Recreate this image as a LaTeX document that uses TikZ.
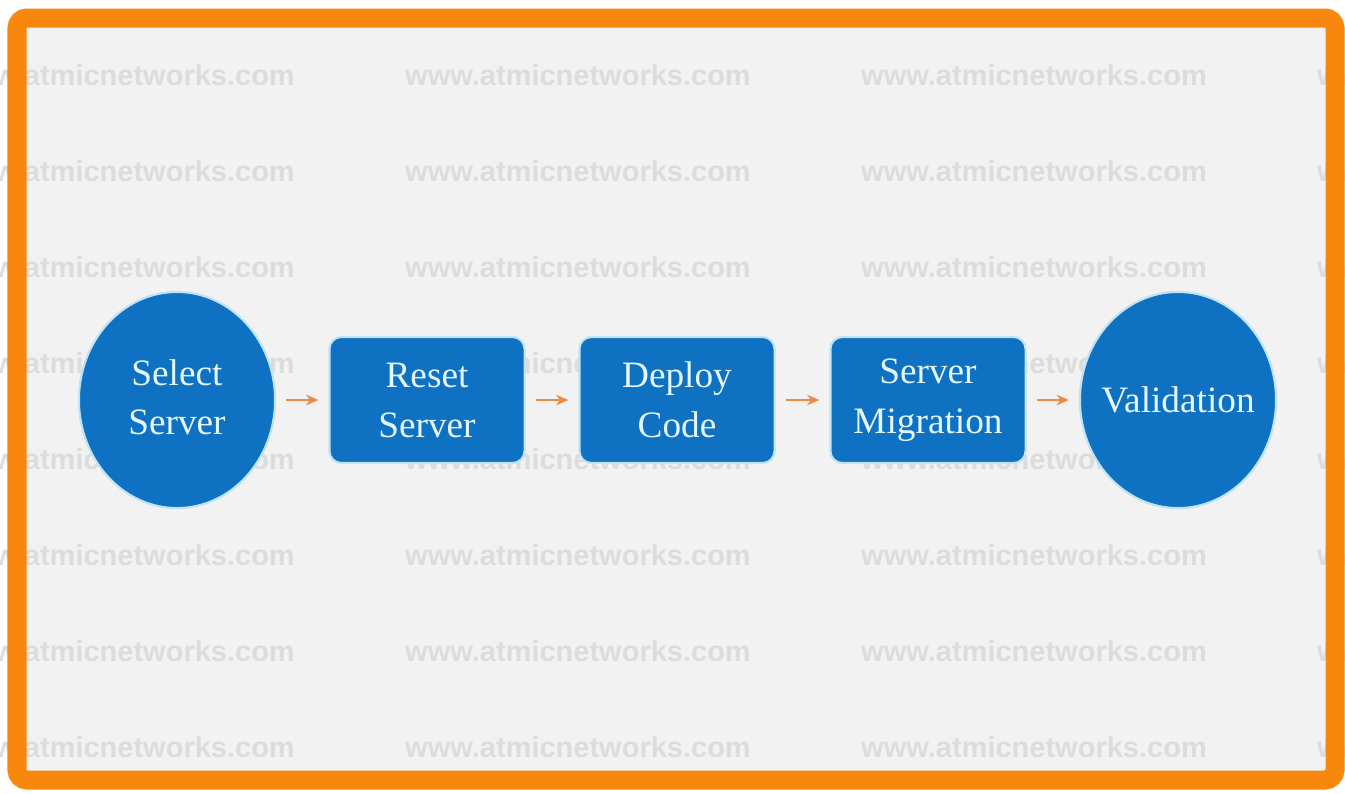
\documentclass[tikz,border=0pt]{standalone}
\usepackage{fontspec}
\setmainfont{Liberation Serif}
\newfontfamily\wmfont{Liberation Sans}
\usetikzlibrary{shapes.geometric,arrows.meta}
\definecolor{frameorange}{HTML}{F8870E}
\definecolor{panelgray}{HTML}{F2F2F2}
\definecolor{wmgray}{HTML}{DCDCDC}
\definecolor{nodeblue}{HTML}{0E71C2}
\definecolor{nodeedge}{HTML}{BFE3F5}
\definecolor{nodetext}{HTML}{E4F6FF}
\definecolor{arroworange}{HTML}{E98B45}
\begin{document}
\begin{tikzpicture}[x=0.01cm,y=-0.01cm,
  wm/.style={text=wmgray,font=\wmfont\bfseries\fontsize{8.25}{10}\selectfont,inner sep=0},
  oval/.style={ellipse,fill=nodeblue,draw=nodeedge,line width=0.6pt,
    minimum width=1.96cm,minimum height=2.16cm,inner sep=0,text=nodetext,
    font=\fontsize{10.6}{14.2}\selectfont},
  stepbox/.style={rectangle,rounded corners=0.12cm,fill=nodeblue,draw=nodeedge,line width=0.6pt,
    minimum width=1.95cm,minimum height=1.26cm,inner sep=0,align=center,text=nodetext,
    font=\fontsize{10.6}{14.2}\selectfont},
  flow/.style={draw=arroworange,line width=0.6pt,-{Stealth[length=3.5pt,width=3pt]},
    shorten <=0.1cm,shorten >=0.1cm}]
\useasboundingbox[fill=white] (0,0) rectangle (1345,793);
\fill[panelgray] (17,18) rectangle (1335,780);
\begin{scope}
  \clip (0,0) rectangle (1345,793);
  \foreach \yy in {75,171,...,747}
    \foreach \xx in {122,578,1034,1490}
      \node[wm] at (\xx,\yy) {www.atmicnetworks.com};
\end{scope}
\draw[frameorange,line width=0.19cm,rounded corners=0.1cm] (17,18) rectangle (1335,780);

\node[oval] (select) at (177,400) {\makebox[0pt]{\begin{tabular}{@{}c@{}}Select\\Server\end{tabular}}};
\node[stepbox] (reset) at (427,400) {Reset\\Server};
\node[stepbox] (deploy) at (677,400) {Deploy\\Code};
\node[stepbox] (migrate) at (928,400) {Server\\Migration};
\node[oval] (valid) at (1178,400) {\makebox[0pt]{Validation}};

\draw[flow] (select) -- (reset);
\draw[flow] (reset) -- (deploy);
\draw[flow] (deploy) -- (migrate);
\draw[flow] (migrate) -- (valid);
\end{tikzpicture}
\end{document}
